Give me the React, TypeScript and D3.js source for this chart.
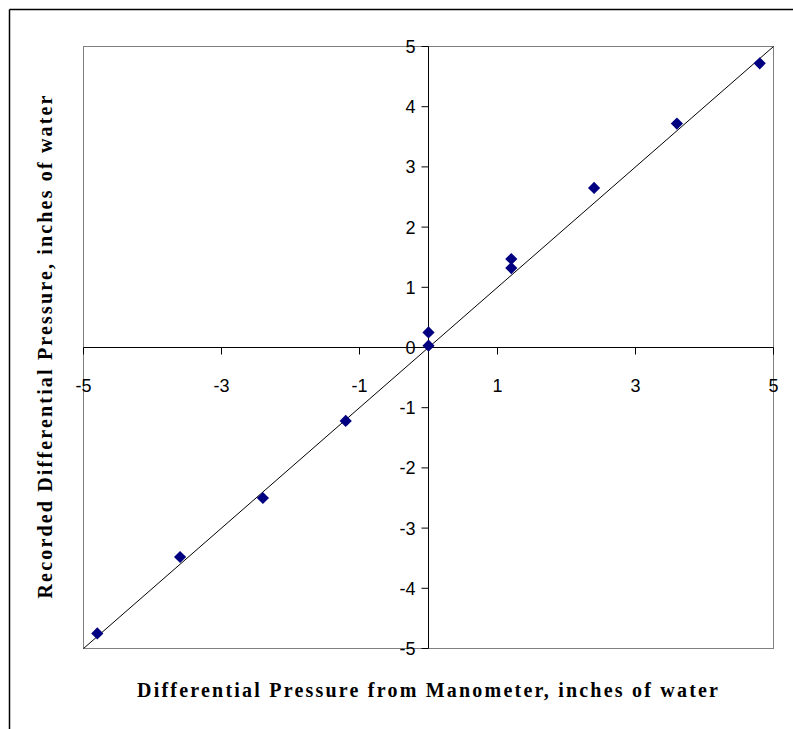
import React from 'react';
import * as d3 from 'd3';

const xValues = [-4.8, -3.6, -2.4, -1.2, 0, 0, 1.2, 1.2, 2.4, 3.6, 4.8];
const yValues = [-4.75, -3.48, -2.5, -1.22, 0.03, 0.25, 1.32, 1.47, 2.65, 3.72, 4.72];
const xTicks = [-5, -3, -1, 1, 3, 5];
const yTicks = [-5, -4, -3, -2, -1, 0, 1, 2, 3, 4, 5];
const xTitle = 'Differential Pressure from Manometer, inches of water';
const yTitle = 'Recorded Differential Pressure, inches of water';

export default function App() {
  const W = 793, H = 729;
  const left = 83.5, right = 773.5, top = 46.5, bottom = 648.5;
  const x = d3.scaleLinear().domain([-5, 5]).range([left, right]);
  const y = d3.scaleLinear().domain([-5, 5]).range([bottom, top]);
  const x0 = x(0), y0 = y(0);
  const diamond = d3.symbol().type(d3.symbolDiamond2).size(95)();
  const trend = d3.line<number>().x(d => x(d)).y(d => y(d))([-5, 5]);
  return (
    <svg width={W} height={H} style={{ position: 'absolute', left: 0, top: 0, background: '#fff' }}>
      <rect x={0} y={0} width={W} height={H} fill="#fff" />
      <line x1={9.5} y1={9.5} x2={W} y2={9.5} stroke="#000" strokeWidth={1.5} />
      <line x1={9.5} y1={9.5} x2={9.5} y2={H} stroke="#000" strokeWidth={1.5} />
      <rect x={left} y={top} width={right - left} height={bottom - top} fill="none" stroke="#808080" strokeWidth={1} />
      <line x1={left} x2={right} y1={y0} y2={y0} stroke="#000" strokeWidth={1} />
      <line x1={x0} x2={x0} y1={top} y2={bottom} stroke="#000" strokeWidth={1} />
      {xTicks.map(t => (
        <g key={'xt' + t}>
          <line x1={x(t)} x2={x(t)} y1={y0} y2={y0 + 7} stroke="#000" />
          <text x={x(t)} y={y0 + 44} textAnchor="middle" fontFamily="Liberation Sans, Arial, sans-serif" fontSize={18}>{t}</text>
        </g>
      ))}
      {yTicks.map(t => (
        <g key={'yt' + t}>
          <line x1={x0 - 7} x2={x0} y1={y(t)} y2={y(t)} stroke="#000" />
          <text x={x0 - 13} y={y(t) + 6.5} textAnchor="end" fontFamily="Liberation Sans, Arial, sans-serif" fontSize={18}>{t}</text>
        </g>
      ))}
      <path d={trend || ''} stroke="#000" strokeWidth={1} fill="none" />
      {xValues.map((v, i) => (
        <path key={'p' + i} d={diamond || ''} transform={`translate(${x(v)},${y(yValues[i])})`} fill="#000080" />
      ))}
      <text x={(left + right) / 2 - 1} y={697} textAnchor="middle" fontFamily="Liberation Serif, Times New Roman, serif" fontWeight="bold" fontSize={20} textLength={581} lengthAdjust="spacing">{xTitle}</text>
      <text transform={`translate(52,347) rotate(-90)`} textAnchor="middle" fontFamily="Liberation Serif, Times New Roman, serif" fontWeight="bold" fontSize={20} textLength={503} lengthAdjust="spacing">{yTitle}</text>
    </svg>
  );
}
